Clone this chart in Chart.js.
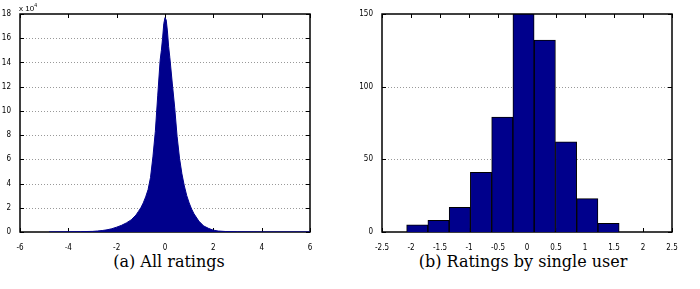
<!DOCTYPE html>
<html>
<head>
<meta charset="utf-8">
<script src="https://cdn.jsdelivr.net/npm/chart.js@4/dist/chart.umd.min.js"></script>
<style>
  body { margin: 0; background: #fff; width: 700px; height: 289px; position: relative; overflow: hidden; }
  .box { position: absolute; top: 0; height: 250px; }
  #boxA { left: 0; width: 330px; }
  #boxB { left: 350px; width: 340px; }
  .cap { position: absolute; top: 252px; font-family: 'DejaVu Serif', 'Liberation Serif', serif; font-size: 16px; color: #000; white-space: nowrap; transform: translateX(-50%); }
  #scale { position: absolute; left: 19px; top: 2px; font-family: 'Liberation Sans', sans-serif; font-size: 8px; }
  #scale sup { font-size: 5px; vertical-align: 4px; }
</style>
</head>
<body>
<div class="box" id="boxA"><canvas id="ChartA"></canvas></div>
<div class="box" id="boxB"><canvas id="ChartB"></canvas></div>
<div id="scale">x 10<sup>4</sup></div>
<div class="cap" style="left:169px">(a) All ratings</div>
<div class="cap" style="left:523px">(b) Ratings by single user</div>
<script>
// (a) all ratings, counts in units of 10^4
const allX = [-4.8, -4.0, -3.5, -3.0, -2.8, -2.6, -2.4, -2.2, -2.0, -1.8, -1.6, -1.4, -1.2, -1.1, -1.0,
    -0.9, -0.8, -0.7, -0.6, -0.5, -0.4, -0.3, -0.2, -0.15, -0.1, -0.05, 0.0, 0.05, 0.1, 0.15, 0.2,
    0.3, 0.4, 0.5, 0.6, 0.7, 0.8, 0.9, 1.0, 1.1, 1.2, 1.4, 1.6, 1.8, 2.0, 2.2, 2.5, 3.0, 4.0, 6.0]
const allCount = [0.01, 0.02, 0.03, 0.05, 0.08, 0.12, 0.18, 0.27, 0.4, 0.55, 0.75, 1.0, 1.4, 1.7, 2.0,
    2.4, 2.9, 3.5, 4.5, 6.2, 8.3, 11.3, 14.2, 15.0, 16.0, 17.2, 17.7, 17.5, 16.6, 15.3, 14.4,
    12.3, 10.3, 7.9, 6.1, 4.8, 3.8, 3.0, 2.4, 1.9, 1.5, 0.9, 0.5, 0.3, 0.15, 0.08, 0.04, 0.02, 0.01, 0.01]
const allXTicks = [-6, -4, -2, 0, 2, 4, 6]
const allYTicks = [0, 2, 4, 6, 8, 10, 12, 14, 16, 18]

// (b) one user, 10 bins
const userBins = [-1.892, -1.526, -1.159, -0.793, -0.426, -0.060, 0.307, 0.673, 1.040, 1.406]
const userCount = [5, 8, 17, 41, 79, 150, 132, 62, 23, 6]
const userXTicks = [-2.5, -2, -1.5, -1, -0.5, 0, 0.5, 1, 1.5, 2, 2.5]
const userYTicks = [0, 50, 100, 150]

const navy = 'rgb(0, 0, 140)'
const tickFont = { family: "'Liberation Sans Narrow', 'DejaVu Sans Condensed', sans-serif", size: 8 }

// matlab style box, inward ticks and dotted grid
const frame = {
    id: 'frame',
    beforeDatasetsDraw(chart) {
        const { ctx, chartArea: a, scales } = chart
        ctx.save()
        ctx.strokeStyle = '#999'
        ctx.lineWidth = 1
        ctx.setLineDash([1, 2])
        ctx.beginPath()
        scales.y.ticks.forEach(t => {
            if (t.value <= scales.y.min || t.value >= scales.y.max) return
            const py = Math.round(scales.y.getPixelForValue(t.value)) + 0.5
            ctx.moveTo(a.left, py); ctx.lineTo(a.right, py)
        })
        ctx.stroke()
        ctx.setLineDash([])
        ctx.strokeStyle = '#000'
        ctx.beginPath()
        scales.x.ticks.forEach(t => {
            const px = Math.round(scales.x.getPixelForValue(t.value)) + 0.5
            ctx.moveTo(px, a.bottom); ctx.lineTo(px, a.bottom - 4)
            ctx.moveTo(px, a.top); ctx.lineTo(px, a.top + 4)
        })
        scales.y.ticks.forEach(t => {
            const py = Math.round(scales.y.getPixelForValue(t.value)) + 0.5
            ctx.moveTo(a.left, py); ctx.lineTo(a.left + 4, py)
            ctx.moveTo(a.right, py); ctx.lineTo(a.right - 4, py)
        })
        ctx.stroke()
        ctx.lineWidth = 1.5
        ctx.strokeRect(a.left, a.top, a.right - a.left, a.bottom - a.top)
        ctx.restore()
    }
}

function axes(xTicks, yTicks, yWidth) {
    return {
        x: {
            type: 'linear', min: xTicks[0], max: xTicks[xTicks.length - 1], offset: false,
            afterBuildTicks: s => { s.ticks = xTicks.map(v => ({ value: v })) },
            afterFit: s => { s.height = 18 },
            grid: { display: false, offset: false },
            border: { display: false },
            ticks: { color: '#000', font: tickFont, padding: 3, maxRotation: 0, autoSkip: false, callback: v => String(v) }
        },
        y: {
            min: yTicks[0], max: yTicks[yTicks.length - 1],
            afterBuildTicks: s => { s.ticks = yTicks.map(v => ({ value: v })) },
            afterFit: s => { s.width = yWidth },
            grid: { display: false },
            border: { display: false },
            ticks: { color: '#000', font: tickFont, padding: 1, autoSkip: false, callback: v => String(v) }
        }
    }
}

new Chart(document.getElementById('ChartA').getContext('2d'), {
    type: 'line',
    data: {
        datasets: [{
            data: allX.map((x, i) => ({ x: x, y: allCount[i] })),
            borderColor: navy,
            backgroundColor: navy,
            borderWidth: 1,
            fill: 'origin',
            pointRadius: 0,
            tension: 0
        }]
    },
    options: {
        responsive: true, maintainAspectRatio: false, animation: false,
        layout: { padding: { top: 14, right: 20, left: 0, bottom: 0 } },
        plugins: { legend: { display: false }, tooltip: { enabled: false } },
        scales: axes(allXTicks, allYTicks, 20)
    },
    plugins: [frame]
})

new Chart(document.getElementById('ChartB').getContext('2d'), {
    type: 'bar',
    data: {
        datasets: [{
            data: userBins.map((x, i) => ({ x: x, y: userCount[i] })),
            backgroundColor: navy,
            borderColor: '#000',
            borderWidth: 1,
            barPercentage: 1,
            categoryPercentage: 1
        }]
    },
    options: {
        responsive: true, maintainAspectRatio: false, animation: false,
        layout: { padding: { top: 14, right: 18, left: 0, bottom: 0 } },
        plugins: { legend: { display: false }, tooltip: { enabled: false } },
        scales: axes(userXTicks, userYTicks, 32)
    },
    plugins: [frame]
})
</script>
</body>
</html>
